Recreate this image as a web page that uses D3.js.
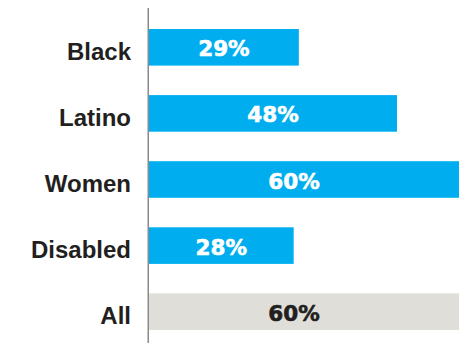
<!DOCTYPE html>
<html>
<head>
<meta charset="utf-8">
<script src="https://cdn.jsdelivr.net/npm/d3@7"></script>
<style>
  html, body { margin: 0; padding: 0; background: #fff; }
  svg { display: block; }
</style>
</head>
<body>
<div id="chart"></div>
<script>
// Share of each group, in percent
const categories = ["Black", "Latino", "Women", "Disabled", "All"];
const values = [29, 48, 60, 28, 60];
const highlight = [true, true, true, true, false];

const W = 467, H = 343;
const svg = d3.select("#chart").append("svg")
  .attr("width", W).attr("height", H);

const x = d3.scaleLinear().domain([0, 60]).range([149, 459]);
const y = d3.scaleBand().domain(categories)
  .range([29, 330]).paddingInner(0.446).paddingOuter(0);

const rows = categories.map((c, i) => ({ c, v: values[i], hl: highlight[i] }));

// Bars
svg.append("g").selectAll("rect").data(rows).join("rect")
  .attr("x", x(0))
  .attr("y", d => y(d.c))
  .attr("width", d => x(d.v) - x(0))
  .attr("height", y.bandwidth())
  .attr("fill", d => d.hl ? "#00AEEF" : "#DFDED8");

// Baseline axis
svg.append("line")
  .attr("x1", 148.25).attr("x2", 148.25)
  .attr("y1", 8).attr("y2", H)
  .attr("stroke", "#8a8a8a").attr("stroke-width", 1.5);

// Category labels
svg.append("g").selectAll("text").data(rows).join("text")
  .attr("x", 131)
  .attr("y", d => y(d.c) + y.bandwidth() / 2 + 12.5)
  .attr("text-anchor", "end")
  .attr("font-family", "'Liberation Sans', Arial, sans-serif")
  .attr("font-weight", 700)
  .attr("font-size", 24)
  .attr("fill", "#231f20")
  .text(d => d.c);

// Value labels inside bars
svg.append("g").selectAll("text").data(rows).join("text")
  .attr("x", d => (x(0) + x(d.v)) / 2 - (d.v >= 60 ? 10 : 0))
  .attr("y", d => y(d.c) + y.bandwidth() / 2 + 9)
  .attr("text-anchor", "middle")
  .attr("font-family", "'DejaVu Sans', sans-serif")
  .attr("font-weight", 700)
  .attr("font-size", 21.5)
  .attr("fill", d => d.hl ? "#ffffff" : "#231f20")
  .attr("stroke", d => d.hl ? "#ffffff" : "#231f20")
  .attr("stroke-width", 0.6)
  .text(d => d.v + "%");
</script>
</body>
</html>
